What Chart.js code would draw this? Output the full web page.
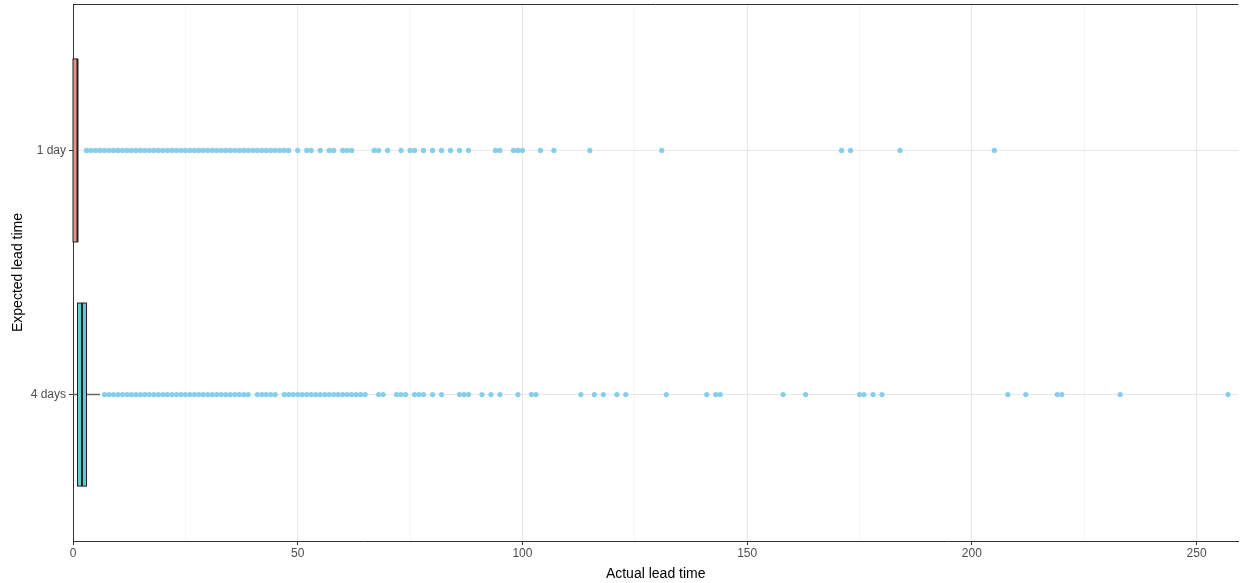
<!DOCTYPE html>
<html>
<head>
<meta charset="utf-8">
<script src="https://cdn.jsdelivr.net/npm/chart.js@4/dist/chart.umd.min.js"></script>
<style>
  html, body { margin: 0; padding: 0; background: #fff; }
  #wrap { width: 1241px; height: 583px; }
</style>
</head>
<body>
<div id="wrap"><canvas id="leadChart" width="1241" height="583"></canvas></div>
<script>
// ----------------------
// Data
// ----------------------
const categories = ["1 day", "4 days"];

// box stats per category (actual lead time)
const whiskerLow = [0, 0];
const boxQ1 = [0, 1];
const boxMedian = [1, 2];
const boxQ3 = [1, 3];
const whiskerHigh = [1, 6];

// outliers
const outliers1Day = [
  3, 4, 5, 6, 7, 8, 9, 10, 11, 12, 13, 14, 15, 16, 17, 18, 19, 20, 21, 22, 23, 24, 25, 26,
  27, 28, 29, 30, 31, 32, 33, 34, 35, 36, 37, 38, 39, 40, 41, 42, 43, 44, 45, 46, 47, 48,
  50, 52, 53, 55, 57, 58, 60, 61, 62, 67, 68, 70, 73, 75, 76, 78, 80, 82, 84, 86, 88,
  94, 95, 98, 99, 100, 104, 107, 115, 131, 171, 173, 184, 205
];
const outliers4Days = [
  7, 8, 9, 10, 11, 12, 13, 14, 15, 16, 17, 18, 19, 20, 21, 22, 23, 24, 25, 26, 27, 28, 29,
  30, 31, 32, 33, 34, 35, 36, 37, 38, 39, 41, 42, 43, 44, 45,
  47, 48, 49, 50, 51, 52, 53, 54, 55, 56, 57, 58, 59, 60, 61, 62, 63, 64, 65,
  68, 69, 72, 73, 74, 76, 77, 78, 80, 82, 86, 87, 88, 91, 93, 95, 99, 102, 103,
  113, 116, 118, 121, 123, 132, 141, 143, 144, 158, 163, 175, 176, 178, 180,
  208, 212, 219, 220, 233, 257
];

const xTicks = [0, 50, 100, 150, 200, 250];

// ----------------------
// Styling
// ----------------------
const boxFills = ["#e8938c", "#5dcfd2"];
const pointColor = "#87ceeb";
const gridColor = "#e8e8e8";
const axisColor = "#333333";
const textColor = "#4d4d4d";
const FONT = "'Liberation Sans', Arial, sans-serif";

// category index -> y position (top category highest)
const catY = i => categories.length - i;

const pointData = [];
outliers1Day.forEach(v => pointData.push({ x: v, y: catY(0) }));
outliers4Days.forEach(v => pointData.push({ x: v, y: catY(1) }));

// ----------------------
// Boxplot plugin (uses chart scales)
// ----------------------
const boxPlugin = {
  id: "boxes",
  beforeDatasetsDraw(chart) {
    const { ctx, scales: { x, y } } = chart;
    ctx.save();
    categories.forEach((c, i) => {
      const yc = y.getPixelForValue(catY(i));
      const yt = y.getPixelForValue(catY(i) + 0.375);
      const yb = y.getPixelForValue(catY(i) - 0.375);

      // whiskers
      ctx.strokeStyle = "#666666";
      ctx.lineWidth = 1.5;
      ctx.beginPath();
      ctx.moveTo(x.getPixelForValue(whiskerLow[i]), yc);
      ctx.lineTo(x.getPixelForValue(boxQ1[i]), yc);
      ctx.moveTo(x.getPixelForValue(boxQ3[i]), yc);
      ctx.lineTo(x.getPixelForValue(whiskerHigh[i]), yc);
      ctx.stroke();

      // box
      const x1 = x.getPixelForValue(boxQ1[i]);
      const x3 = x.getPixelForValue(boxQ3[i]);
      ctx.fillStyle = boxFills[i];
      ctx.fillRect(x1, yt, x3 - x1, yb - yt);
      ctx.strokeStyle = "#222222";
      ctx.lineWidth = 1;
      ctx.strokeRect(x1, yt, x3 - x1, yb - yt);

      // median
      const xm = x.getPixelForValue(boxMedian[i]);
      ctx.lineWidth = 2;
      ctx.beginPath();
      ctx.moveTo(xm, yt);
      ctx.lineTo(xm, yb);
      ctx.stroke();
    });
    ctx.restore();
  },
  afterDraw(chart) {
    // top border of the panel
    const { ctx, chartArea: a } = chart;
    ctx.save();
    ctx.strokeStyle = axisColor;
    ctx.lineWidth = 1;
    ctx.beginPath();
    ctx.moveTo(a.left, a.top + 0.5);
    ctx.lineTo(a.right, a.top + 0.5);
    ctx.stroke();
    ctx.restore();
  }
};

// ----------------------
// Chart
// ----------------------
const ctx = document.getElementById("leadChart").getContext("2d");
const chart = new Chart(ctx, {
  type: "scatter",
  data: {
    datasets: [{
      label: "outliers",
      data: pointData,
      backgroundColor: pointColor,
      borderWidth: 0,
      pointRadius: 2.6,
      pointHoverRadius: 2.6
    }]
  },
  options: {
    responsive: false,
    animation: false,
    layout: { padding: { top: 4, right: 0, left: 0, bottom: 0 } },
    plugins: {
      legend: { display: false },
      tooltip: { enabled: false }
    },
    scales: {
      x: {
        type: "linear",
        min: 0,
        max: 259.3,
        afterBuildTicks(axis) {
          const t = [];
          for (let v = 0; v <= 250; v += 25) t.push({ value: v });
          axis.ticks = t;
        },
        afterFit(axis) {
          axis.height = 42;
          axis.paddingLeft = 0;
          axis.paddingRight = 0;
        },
        grid: {
          color: ctx => (xTicks.includes(ctx.tick.value) ? gridColor : "#f0f0f0"),
          lineWidth: ctx => (xTicks.includes(ctx.tick.value) ? 1 : 0.7),
          tickColor: ctx => (xTicks.includes(ctx.tick.value) ? axisColor : "rgba(0,0,0,0)"),
          tickLength: 4
        },
        border: { display: true, color: axisColor, width: 1 },
        ticks: {
          autoSkip: false,
          maxRotation: 0,
          padding: 1,
          color: textColor,
          font: { family: FONT, size: 12 },
          callback: v => (xTicks.includes(v) ? String(v) : "")
        },
        title: {
          display: true,
          text: "Actual lead time",
          color: "#000",
          font: { family: FONT, size: 14 },
          padding: { top: 2, bottom: 0 }
        }
      },
      y: {
        type: "linear",
        min: 0.4,
        max: 2.6,
        afterBuildTicks(axis) {
          axis.ticks = categories.map((c, i) => ({ value: catY(i) }));
        },
        afterFit(axis) {
          axis.width = 73;
          axis.paddingTop = 0;
          axis.paddingBottom = 0;
        },
        grid: {
          color: gridColor,
          lineWidth: 1,
          tickColor: axisColor,
          tickLength: 4
        },
        border: { display: true, color: axisColor, width: 1 },
        ticks: {
          autoSkip: false,
          padding: 3,
          color: textColor,
          font: { family: FONT, size: 12 },
          callback: v => categories[categories.length - v]
        },
        title: {
          display: true,
          text: "Expected lead time",
          color: "#000",
          font: { family: FONT, size: 14 },
          padding: { top: 10, bottom: 0 }
        }
      }
    }
  },
  plugins: [boxPlugin]
});
</script>
</body>
</html>
